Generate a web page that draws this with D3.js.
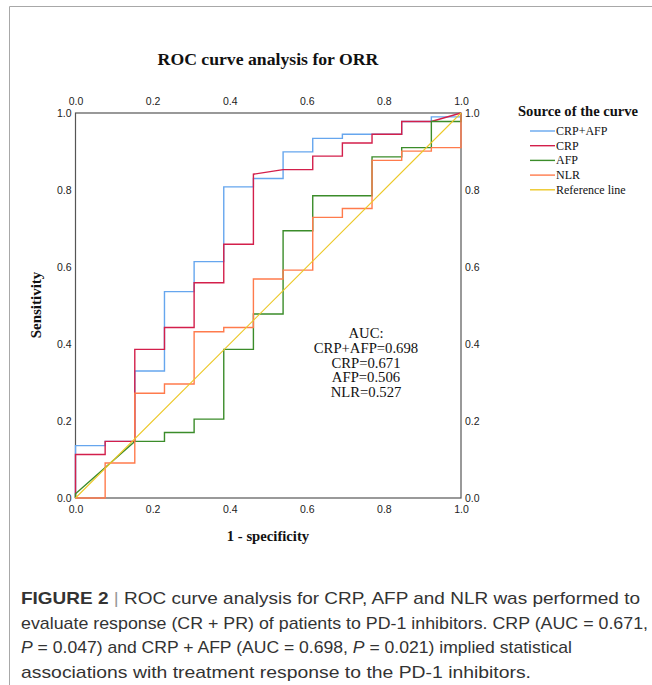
<!DOCTYPE html>
<html>
<head>
<meta charset="utf-8">
<script src="https://cdn.jsdelivr.net/npm/d3@7"></script>
<style>
    body { margin: 0; background: #fff; }
    svg { display: block; }
</style>
</head>
<body>
<div id="chart"></div>
<script>
// ROC curves (1 - specificity, sensitivity)
const crpAfpFpr = [0, 0, 0.0769, 0.0769, 0.1538, 0.1538, 0.2308, 0.2308, 0.3077, 0.3077, 0.3846, 0.3846, 0.4615, 0.4615, 0.5385, 0.5385, 0.6154, 0.6154, 0.6923, 0.6923, 0.8462, 0.8462, 0.9231, 0.9231, 1, 1];
const crpAfpTpr = [0, 0.136, 0.136, 0.147, 0.147, 0.330, 0.330, 0.536, 0.536, 0.614, 0.614, 0.808, 0.808, 0.830, 0.830, 0.899, 0.899, 0.934, 0.934, 0.945, 0.945, 0.978, 0.978, 0.990, 0.990, 1];

const crpFpr = [0, 0, 0.0769, 0.0769, 0.1538, 0.1538, 0.2308, 0.2308, 0.3077, 0.3077, 0.3846, 0.3846, 0.4615, 0.4615, 0.5385, 0.6154, 0.6154, 0.6923, 0.6923, 0.7692, 0.7692, 0.8462, 0.8462, 0.9231, 1];
const crpTpr = [0, 0.113, 0.113, 0.147, 0.147, 0.386, 0.386, 0.443, 0.443, 0.559, 0.559, 0.659, 0.659, 0.841, 0.853, 0.853, 0.888, 0.888, 0.922, 0.922, 0.945, 0.945, 0.978, 0.978, 1];

const afpFpr = [0, 0, 0.1538, 0.2308, 0.2308, 0.3077, 0.3077, 0.3846, 0.3846, 0.4615, 0.4615, 0.5385, 0.5385, 0.6154, 0.6154, 0.7692, 0.7692, 0.8462, 0.8462, 0.9231, 0.9231, 1, 1];
const afpTpr = [0, 0.011, 0.147, 0.147, 0.170, 0.170, 0.205, 0.205, 0.386, 0.386, 0.478, 0.478, 0.694, 0.694, 0.785, 0.785, 0.886, 0.886, 0.910, 0.910, 0.978, 0.978, 1];

const nlrFpr = [0, 0.0769, 0.0769, 0.1538, 0.1538, 0.2308, 0.2308, 0.3077, 0.3077, 0.3846, 0.3846, 0.4615, 0.4615, 0.5385, 0.5385, 0.6154, 0.6154, 0.6923, 0.6923, 0.7692, 0.7692, 0.8462, 0.8462, 0.9231, 0.9231, 1, 1];
const nlrTpr = [0, 0, 0.091, 0.091, 0.272, 0.272, 0.296, 0.296, 0.432, 0.432, 0.443, 0.443, 0.569, 0.569, 0.592, 0.592, 0.729, 0.729, 0.752, 0.752, 0.877, 0.877, 0.901, 0.901, 0.910, 0.910, 1];

const refFpr = [0, 1];
const refTpr = [0, 1];

const seriesNames = ['CRP+AFP', 'CRP', 'AFP', 'NLR', 'Reference line'];
const seriesColors = ['#66a6ee', '#d31f4b', '#3b8c2a', '#ff7b4c', '#ecc828'];
const aucLines = ['AUC:', 'CRP+AFP=0.698', 'CRP=0.671', 'AFP=0.506', 'NLR=0.527'];
const tickValues = [0, 0.2, 0.4, 0.6, 0.8, 1.0];

const captionLines = [
    [{t: 'FIGURE 2', b: true}, {t: ' | ', sep: true}, {t: 'ROC curve analysis for CRP, AFP and NLR was performed to'}],
    [{t: 'evaluate response (CR + PR) of patients to PD-1 inhibitors. CRP (AUC = 0.671,'}],
    [{t: 'P', i: true}, {t: ' = 0.047) and CRP + AFP (AUC = 0.698, '}, {t: 'P', i: true}, {t: ' = 0.021) implied statistical'}],
    [{t: 'associations with treatment response to the PD-1 inhibitors.'}]
];
// printed width of each caption line in the figure
const captionWidths = [619, 627, 551, 510];

const width = 652, height = 685;
const serif = '"Liberation Serif", "Times New Roman", serif';
const sans = '"Liberation Sans", Arial, sans-serif';

const svg = d3.select('#chart').append('svg')
    .attr('width', width)
    .attr('height', height);

// outer frame of the figure panel
svg.append('path')
    .attr('d', 'M9.5,' + height + 'V6.5H' + width)
    .attr('fill', 'none')
    .attr('stroke', '#a8a8a8')
    .attr('stroke-width', 1);

const x = d3.scaleLinear().domain([0, 1]).range([75.5, 461]);
const y = d3.scaleLinear().domain([0, 1]).range([498, 113]);

// axes: labels only, no tick marks
function styleAxis(g) {
    g.select('.domain').remove();
    g.selectAll('text')
        .attr('font-family', sans)
        .attr('font-size', '10.5px')
        .attr('fill', '#222');
}
const fmt = d3.format('.1f');
svg.append('g').attr('transform', 'translate(0,' + y(0) + ')')
    .call(d3.axisBottom(x).tickValues(tickValues).tickFormat(fmt).tickSize(0).tickPadding(8))
    .call(styleAxis);
svg.append('g').attr('transform', 'translate(0,' + y(1) + ')')
    .call(d3.axisTop(x).tickValues(tickValues).tickFormat(fmt).tickSize(0).tickPadding(8))
    .call(styleAxis);
svg.append('g').attr('transform', 'translate(' + x(0) + ',0)')
    .call(d3.axisLeft(y).tickValues(tickValues).tickFormat(fmt).tickSize(0).tickPadding(4))
    .call(styleAxis);
svg.append('g').attr('transform', 'translate(' + x(1) + ',0)')
    .call(d3.axisRight(y).tickValues(tickValues).tickFormat(fmt).tickSize(0).tickPadding(4))
    .call(styleAxis);

// plot frame
svg.append('rect')
    .attr('x', x(0))
    .attr('y', y(1))
    .attr('width', x(1) - x(0))
    .attr('height', y(0) - y(1))
    .attr('fill', 'none')
    .attr('stroke', '#555')
    .attr('stroke-width', 1.2);

// curves
const curves = [
    [crpAfpFpr, crpAfpTpr],
    [crpFpr, crpTpr],
    [afpFpr, afpTpr],
    [nlrFpr, nlrTpr],
    [refFpr, refTpr]
];
const line = d3.line()
    .x(function(d){ return x(d[0]); })
    .y(function(d){ return y(d[1]); });

curves.forEach(function(c, i) {
    let pts = d3.zip(c[0], c[1]);
    svg.append('path')
        .datum(pts)
        .attr('d', line)
        .attr('fill', 'none')
        .attr('stroke', seriesColors[i])
        .attr('stroke-width', i === 4 ? 1.1 : 1.4);
});

// titles
svg.append('text')
    .attr('x', 268)
    .attr('y', 65)
    .attr('text-anchor', 'middle')
    .attr('font-family', serif)
    .attr('font-weight', 'bold')
    .attr('font-size', '17.7px')
    .attr('fill', '#111')
    .text('ROC curve analysis for ORR');

svg.append('text')
    .attr('transform', 'translate(41,305) rotate(-90)')
    .attr('text-anchor', 'middle')
    .attr('font-family', serif)
    .attr('font-weight', 'bold')
    .attr('font-size', '15px')
    .attr('fill', '#111')
    .text('Sensitivity');

svg.append('text')
    .attr('x', 268)
    .attr('y', 541)
    .attr('text-anchor', 'middle')
    .attr('font-family', serif)
    .attr('font-weight', 'bold')
    .attr('font-size', '14.7px')
    .attr('fill', '#111')
    .text('1 - specificity');

// AUC annotation
svg.append('g').selectAll('text')
    .data(aucLines)
    .enter()
    .append('text')
    .attr('x', 366)
    .attr('y', function(d, i){ return 338 + i * 14.8; })
    .attr('text-anchor', 'middle')
    .attr('font-family', serif)
    .attr('font-size', '14.7px')
    .attr('fill', '#111')
    .text(function(d){ return d; });

// legend
const legend = svg.append('g');
legend.append('text')
    .attr('x', 518)
    .attr('y', 116)
    .attr('font-family', serif)
    .attr('font-weight', 'bold')
    .attr('font-size', '14.6px')
    .attr('fill', '#111')
    .text('Source of the curve');

const entries = legend.selectAll('.legend-entry')
    .data(seriesNames)
    .enter()
    .append('g')
    .attr('class', 'legend-entry')
    .attr('transform', function(d, i){ return 'translate(0,' + (131 + i * 14.7) + ')'; });
entries.append('line')
    .attr('x1', 530).attr('x2', 555)
    .attr('y1', 0).attr('y2', 0)
    .attr('stroke', function(d, i){ return seriesColors[i]; })
    .attr('stroke-width', 1.4);
entries.append('text')
    .attr('x', 556)
    .attr('y', 4)
    .attr('font-family', serif)
    .attr('font-size', '12px')
    .attr('fill', '#111')
    .text(function(d){ return d; });

// caption
const caption = svg.append('g');
captionLines.forEach(function(parts, i) {
    let t = caption.append('text')
        .attr('x', 21)
        .attr('y', 604 + i * 24.7)
        .attr('font-family', sans)
        .attr('font-size', '17px')
        .attr('fill', '#333')
        .attr('textLength', captionWidths[i])
        .attr('lengthAdjust', 'spacingAndGlyphs');
    parts.forEach(function(p) {
        t.append('tspan')
            .attr('font-weight', p.b ? 'bold' : null)
            .attr('font-style', p.i ? 'italic' : null)
            .attr('fill', p.sep ? '#999' : null)
            .text(p.t);
    });
});
</script>
</body>
</html>
